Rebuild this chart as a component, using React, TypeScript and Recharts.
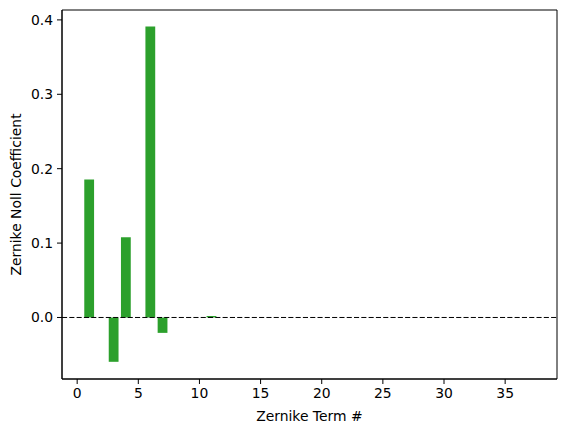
import React from "react";
import { ComposedChart, Bar, XAxis, YAxis, ReferenceLine, ReferenceArea } from "recharts";

const terms = [1, 2, 3, 4, 5, 6, 7, 8, 9, 10, 11, 12, 13, 14, 15, 16, 17, 18, 19, 20, 21, 22, 23, 24, 25, 26, 27, 28, 29, 30, 31, 32, 33, 34, 35, 36, 37];
const coefficients = [0.1856, 0, -0.0596, 0.1078, 0, 0.391, -0.0207, 0, 0, 0, 0.002, 0, 0, 0, 0, 0, 0, 0, 0, 0, 0, 0, 0, 0, 0, 0, 0, 0, 0, 0, 0, 0, 0, 0, 0, 0, 0];
const xTicks = [0, 5, 10, 15, 20, 25, 30, 35];
const yTicks = [0, 0.1, 0.2, 0.3, 0.4];

const data = terms.map((t, i) => ({ term: t, value: coefficients[i] }));

const FONT = "DejaVu Sans";
const FS = 13.9;
const GREEN = "#2ca02c";
const X_DOMAIN: [number, number] = [-1.24, 39.24];
const Y_DOMAIN: [number, number] = [-0.0827, 0.4133];

const XLabel = () => (
  <text x={309.4} y={415.5} textAnchor="middle" dominantBaseline="central" fontFamily={FONT} fontSize={FS} fill="#000">
    Zernike Term #
  </text>
);

const YLabel = () => (
  <text
    x={15.5}
    y={194.5}
    textAnchor="middle"
    dominantBaseline="central"
    transform="rotate(-90 15.5 194.5)"
    fontFamily={FONT}
    fontSize={FS}
    fill="#000"
  >
    Zernike Noll Coefficient
  </text>
);

export default function App() {
  const tickStyle = { fontFamily: FONT, fontSize: FS, fill: "#000" };
  return (
    <div style={{ position: "absolute", left: 0, top: 0, width: 567, height: 432, background: "#fff" }}>
      <ComposedChart width={567} height={432} data={data} margin={{ top: 10, right: 10, bottom: 0, left: 0 }}>
        <XAxis
          dataKey="term"
          type="number"
          domain={X_DOMAIN}
          ticks={xTicks}
          allowDataOverflow
          tick={tickStyle}
          tickSize={5}
          tickMargin={4}
          height={53}
          stroke="#000"
          tickFormatter={(v) => String(v)}
          label={<XLabel />}
        />
        <YAxis
          type="number"
          domain={Y_DOMAIN}
          ticks={yTicks}
          allowDataOverflow
          tick={tickStyle}
          tickSize={5}
          tickMargin={4}
          width={62}
          stroke="#000"
          tickFormatter={(v) => Number(v).toFixed(1)}
          label={<YLabel />}
        />
        <Bar dataKey="value" fill={GREEN} barSize={9.8} isAnimationActive={false} />
        <ReferenceLine y={0} stroke="#000" strokeWidth={1} strokeDasharray="5.1 2.2" />
        <ReferenceArea
          x1={X_DOMAIN[0]}
          x2={X_DOMAIN[1]}
          y1={Y_DOMAIN[0]}
          y2={Y_DOMAIN[1]}
          fill="none"
          fillOpacity={0}
          stroke="#000"
          strokeWidth={1}
          strokeOpacity={1}
          ifOverflow="visible"
        />
      </ComposedChart>
    </div>
  );
}
